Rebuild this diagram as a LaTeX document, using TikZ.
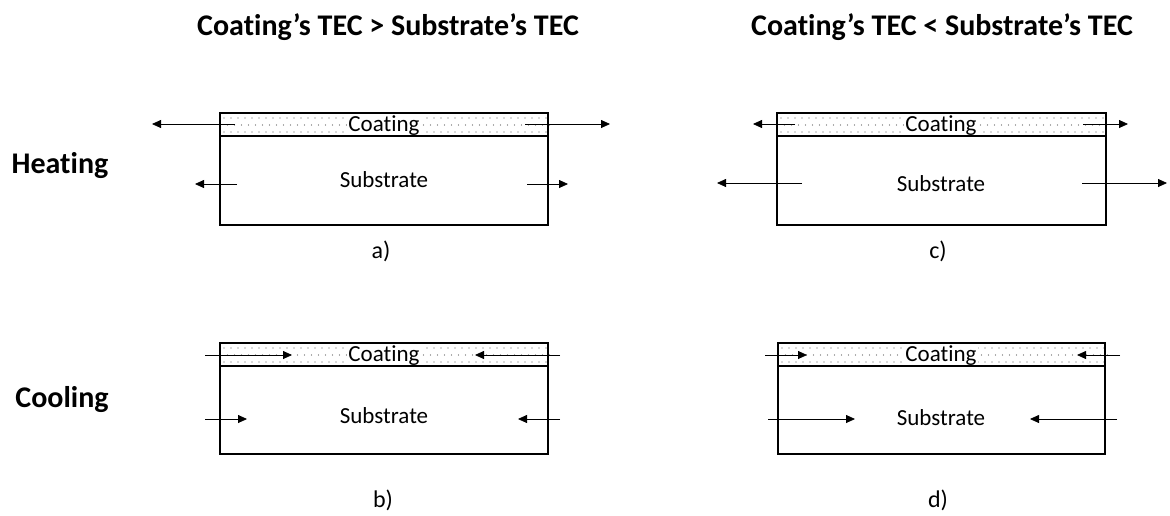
\documentclass[tikz,border=0pt]{standalone}
\usepackage{fontspec}
\setmainfont{Carlito}[Ligatures={NoCommon,NoContextual},Contextuals={NoAlternate}]
\usetikzlibrary{arrows.meta}
\begin{document}
\begin{tikzpicture}[x=1pt,y=-1pt,
  box/.style={draw=black,line width=1.3pt,inner sep=0pt,outer sep=0pt,anchor=north west},
  coat/.style={box},
  lbl/.style={font=\fontsize{23}{27}\selectfont,anchor=base,inner sep=0pt},
  sublbl/.style={font=\fontsize{24}{28}\selectfont,anchor=base,inner sep=0pt},
  ttl/.style={font=\fontsize{30}{34}\selectfont\bfseries,anchor=base,inner sep=0pt},
  dot/.style={fill=black!65},
  arr/.style={line width=0.8pt,-{Triangle[length=9pt,width=8pt]}}]
\useasboundingbox (0,0) rectangle (1170,515);
% titles
\node[ttl] (t1) at (388,35) {Coating’s TEC > Substrate’s TEC};
\node[ttl] (t2) at (942,35) {Coating’s TEC < Substrate’s TEC};
\node[ttl] (heat) at (60,173) {Heating};
\node[ttl] (cool) at (62,407) {Cooling};
% dots in coatings
\foreach \xl/\yt in {220/113, 777/113, 220/343, 778/343}{
  \foreach \i in {0,...,46}{
    \fill[dot] (\xl+4+7*\i,\yt+5) circle (0.7pt);
    \fill[dot] (\xl+7.5+7*\i,\yt+12) circle (0.7pt);
    \fill[dot] (\xl+4+7*\i,\yt+19) circle (0.7pt);
  }
}
% boxes
\node[box,minimum width=328pt,minimum height=112pt] (subA) at (220,113) {};
\node[coat,minimum width=328pt,minimum height=23pt] (coA) at (220,113) {};
\node[box,minimum width=329pt,minimum height=112pt] (subC) at (777,113) {};
\node[coat,minimum width=329pt,minimum height=23pt] (coC) at (777,113) {};
\node[box,minimum width=328pt,minimum height=111pt] (subB) at (220,343) {};
\node[coat,minimum width=328pt,minimum height=23pt] (coB) at (220,343) {};
\node[box,minimum width=327pt,minimum height=111pt] (subD) at (778,343) {};
\node[coat,minimum width=327pt,minimum height=23pt] (coD) at (778,343) {};
% texts
\node[lbl,fill=white,inner xsep=1pt,inner ysep=0pt] (tcA) at (384,131) {Coating};
\node[lbl] (tsA) at (384,187) {Substrate};
\node[lbl,fill=white,inner xsep=1pt] (tcC) at (941,131) {Coating};
\node[lbl] (tsC) at (941,191) {Substrate};
\node[lbl,fill=white,inner xsep=1pt] (tcB) at (384,361) {Coating};
\node[lbl] (tsB) at (384,423) {Substrate};
\node[lbl,fill=white,inner xsep=1pt] (tcD) at (941,361) {Coating};
\node[lbl] (tsD) at (941,425) {Substrate};
\node[sublbl] (la) at (381,258) {a)};
\node[sublbl] (lc) at (938,258) {c)};
\node[sublbl] (lb) at (383,507) {b)};
\node[sublbl] (ld) at (938,507) {d)};
% arrows
\foreach \n/\xa/\ya/\xb in {
  a1/235/124/152, a2/525/124/610, a3/237/184/195, a4/527/184/568,
  c1/795/124/753, c2/1083/124/1128, c3/802/183/717, c4/1082/183/1167,
  b1/205/355/292, b2/560/355/475, b3/205/419/247, b4/560/419/518,
  d1/765/355/807, d2/1120/355/1077, d3/768/419/855, d4/1117/419/1030}{
  \coordinate (\n s) at (\xa,\ya);
  \coordinate (\n e) at (\xb,\ya);
  \draw[arr] (\n s) -- (\n e);
}
\end{tikzpicture}
\end{document}
